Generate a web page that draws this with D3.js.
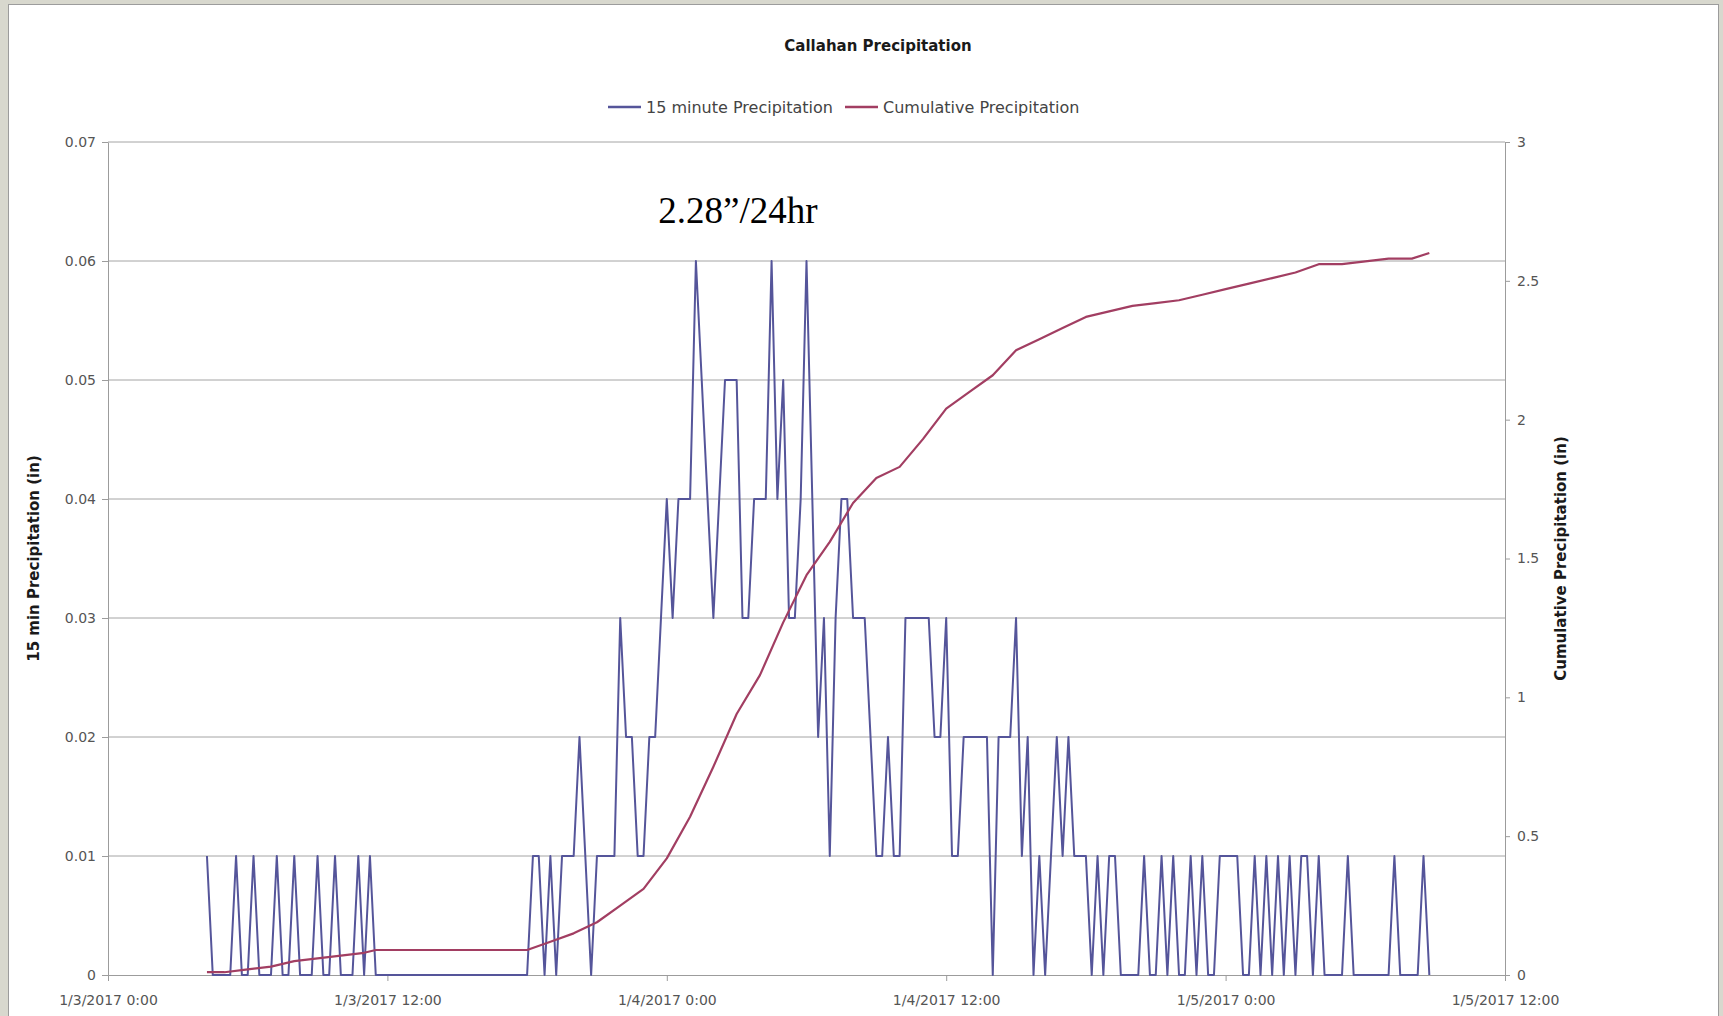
<!DOCTYPE html>
<html>
<head>
<meta charset="utf-8">
<script src="https://cdn.jsdelivr.net/npm/d3@7"></script>
<style>
  body { margin: 0; background: #fff; }
  svg { display: block; }
</style>
</head>
<body>
<div id="chart"></div>
<script>
const width = 1723, height = 1016;

// 15 minute precipitation (in), first reading 1/3/2017 4:15, one reading every 15 min
const precipStart = new Date(2017, 0, 3, 4, 15);
const precip15 = [
  0.01, 0, 0, 0,   0, 0.01, 0, 0,   0.01, 0, 0, 0,   0.01, 0, 0, 0.01,
  0, 0, 0, 0.01,   0, 0, 0.01, 0,   0, 0, 0.01, 0,   0.01, 0, 0, 0,
  0, 0, 0, 0,      0, 0, 0, 0,      0, 0, 0, 0,      0, 0, 0, 0,
  0, 0, 0, 0,      0, 0, 0, 0,
  0.01, 0.01, 0, 0.01,   0, 0.01, 0.01, 0.01,   0.02, 0.01, 0, 0.01,   0.01, 0.01, 0.01, 0.03,
  0.02, 0.02, 0.01, 0.01,   0.02, 0.02, 0.03, 0.04,   0.03, 0.04, 0.04, 0.04,   0.06, 0.05, 0.04, 0.03,
  0.04, 0.05, 0.05, 0.05,   0.03, 0.03, 0.04, 0.04,   0.04, 0.06, 0.04, 0.05,   0.03, 0.03, 0.04, 0.06,
  0.04, 0.02, 0.03, 0.01,   0.03, 0.04, 0.04, 0.03,   0.03, 0.03, 0.02, 0.01,   0.01, 0.02, 0.01, 0.01,
  0.03, 0.03, 0.03, 0.03,   0.03, 0.02, 0.02, 0.03,   0.01, 0.01, 0.02, 0.02,   0.02, 0.02, 0.02, 0,
  0.02, 0.02, 0.02, 0.03,   0.01, 0.02, 0, 0.01,   0, 0.01, 0.02, 0.01,   0.02, 0.01, 0.01, 0.01,
  0, 0.01, 0, 0.01,   0.01, 0, 0, 0,   0, 0.01, 0, 0,   0.01, 0, 0.01, 0,
  0, 0.01, 0, 0.01,   0, 0, 0.01, 0.01,   0.01, 0.01, 0, 0,   0.01, 0, 0.01, 0,
  0.01, 0, 0.01, 0,   0.01, 0.01, 0, 0.01,   0, 0, 0, 0,   0.01, 0, 0, 0,
  0, 0, 0, 0,   0.01, 0, 0, 0,   0, 0.01, 0
];

// cumulative precipitation (in), hours after 1/3/2017 0:00
const cumHours = [4.25, 5, 6, 7, 8, 9, 10, 11, 11.5, 18, 19, 20, 21, 22, 23, 24, 25, 26, 27, 28,
  29, 30, 31, 32, 33, 34, 35, 36, 37, 38, 39, 40, 41, 42, 43, 44, 45, 46, 47, 48,
  49, 50, 51, 52, 53, 54, 55, 56, 56.75];
const cumValues = [0.01, 0.01, 0.02, 0.03, 0.05, 0.06, 0.07, 0.08, 0.09, 0.09, 0.12, 0.15, 0.19, 0.25, 0.31, 0.42, 0.57, 0.75, 0.94, 1.08,
  1.27, 1.44, 1.56, 1.70, 1.79, 1.83, 1.93, 2.04, 2.10, 2.16, 2.25, 2.29, 2.33, 2.37, 2.39, 2.41, 2.42, 2.43, 2.45, 2.47,
  2.49, 2.51, 2.53, 2.56, 2.56, 2.57, 2.58, 2.58, 2.60];

const leftTicks = [0, 0.01, 0.02, 0.03, 0.04, 0.05, 0.06, 0.07];
const rightTicks = [0, 0.5, 1, 1.5, 2, 2.5, 3];
const xTickHours = [0, 12, 24, 36, 48, 60];

const day0 = new Date(2017, 0, 3, 0, 0);
const hoursToDate = h => new Date(day0.getTime() + h * 3600 * 1000);

const plotLeft = 108, plotRight = 1505, plotTop = 142, plotBottom = 975;
const blue = "#55559a", red = "#a23e62";

const svg = d3.select("#chart")
  .append("svg")
  .attr("width", width)
  .attr("height", height);

// frame around the chart
svg.append("rect").attr("width", width).attr("height", height).attr("fill", "#d8d8ce");
svg.append("rect")
  .attr("x", 8.5).attr("y", 4.5)
  .attr("width", 1710).attr("height", 1030)
  .attr("fill", "#fff").attr("stroke", "#9c9c9c");

const x = d3.scaleTime()
  .domain([hoursToDate(0), hoursToDate(60)])
  .range([plotLeft, plotRight]);
const yL = d3.scaleLinear().domain([0, 0.07]).range([plotBottom, plotTop]);
const yR = d3.scaleLinear().domain([0, 3]).range([plotBottom, plotTop]);

// gridlines
svg.append("g").selectAll("line")
  .data(leftTicks.filter(d => d > 0))
  .enter().append("line")
  .attr("x1", plotLeft).attr("x2", plotRight)
  .attr("y1", d => yL(d)).attr("y2", d => yL(d))
  .attr("stroke", "#a4a4a4").attr("stroke-width", 1);

const fmtDate = d => `${d.getMonth() + 1}/${d.getDate()}/${d.getFullYear()} ${d.getHours()}:${String(d.getMinutes()).padStart(2, "0")}`;

function styleAxis(g) {
  g.selectAll("path, line").attr("stroke", "#9c9c9c");
  g.selectAll("text")
    .attr("fill", "#555")
    .style("font-family", "'DejaVu Sans', Verdana, sans-serif")
    .style("font-size", "14px");
}

svg.append("g")
  .attr("transform", `translate(${plotLeft},0)`)
  .call(d3.axisLeft(yL).tickValues(leftTicks).tickSize(6).tickPadding(6)
    .tickSizeOuter(0)
    .tickFormat(d => d === 0 ? "0" : d.toFixed(2)))
  .call(styleAxis);

svg.append("g")
  .attr("transform", `translate(${plotRight},0)`)
  .call(d3.axisRight(yR).tickValues(rightTicks).tickSize(5).tickPadding(7)
    .tickSizeOuter(0)
    .tickFormat(d => String(d)))
  .call(styleAxis);

svg.append("g")
  .attr("transform", `translate(0,${plotBottom})`)
  .call(d3.axisBottom(x).tickValues(xTickHours.map(hoursToDate)).tickSize(6).tickPadding(14)
    .tickSizeOuter(0)
    .tickFormat(fmtDate))
  .call(styleAxis);

// series
const precipLine = d3.line()
  .x((d, i) => x(new Date(precipStart.getTime() + i * 15 * 60 * 1000)))
  .y(d => yL(d));

const cumLine = d3.line()
  .x((d, i) => x(hoursToDate(cumHours[i])))
  .y(d => yR(d));

svg.append("path")
  .datum(precip15)
  .attr("d", precipLine)
  .attr("fill", "none")
  .attr("stroke", blue)
  .attr("stroke-width", 2)
  .attr("stroke-linejoin", "round");

svg.append("path")
  .datum(cumValues)
  .attr("d", cumLine)
  .attr("fill", "none")
  .attr("stroke", red)
  .attr("stroke-width", 2.2)
  .attr("stroke-linejoin", "round");

// titles
svg.append("text")
  .attr("x", 878).attr("y", 51)
  .attr("text-anchor", "middle")
  .style("font-family", "'DejaVu Sans', Verdana, sans-serif")
  .style("font-size", "15px").style("font-weight", "bold")
  .attr("fill", "#1a1a1a")
  .text("Callahan Precipitation");

svg.append("text")
  .attr("transform", `translate(34,${(plotTop + plotBottom) / 2}) rotate(-90)`)
  .attr("text-anchor", "middle").attr("dy", "0.35em")
  .style("font-family", "'DejaVu Sans', Verdana, sans-serif")
  .style("font-size", "15px").style("font-weight", "bold")
  .attr("fill", "#1a1a1a")
  .text("15 min Precipitation (in)");

svg.append("text")
  .attr("transform", `translate(1561,${(plotTop + plotBottom) / 2}) rotate(-90)`)
  .attr("text-anchor", "middle").attr("dy", "0.35em")
  .style("font-family", "'DejaVu Sans', Verdana, sans-serif")
  .style("font-size", "15px").style("font-weight", "bold")
  .attr("fill", "#1a1a1a")
  .text("Cumulative Precipitation (in)");

// legend
const legend = [
  { name: "15 minute Precipitation", color: blue, x: 608 },
  { name: "Cumulative Precipitation", color: red, x: 845 }
];
const lg = svg.append("g").selectAll("g").data(legend).enter().append("g");
lg.append("line")
  .attr("x1", d => d.x).attr("x2", d => d.x + 33)
  .attr("y1", 107).attr("y2", 107)
  .attr("stroke", d => d.color).attr("stroke-width", 2.5);
lg.append("text")
  .attr("x", d => d.x + 38).attr("y", 107).attr("dy", "0.35em")
  .style("font-family", "'DejaVu Sans', Verdana, sans-serif")
  .style("font-size", "16px")
  .attr("fill", "#444")
  .text(d => d.name);

// annotation
svg.append("text")
  .attr("x", 738).attr("y", 223)
  .attr("text-anchor", "middle")
  .style("font-family", "'Liberation Serif', 'Times New Roman', serif")
  .style("font-size", "37px")
  .attr("fill", "#000")
  .text("2.28\u201d/24hr");
</script>
</body>
</html>
